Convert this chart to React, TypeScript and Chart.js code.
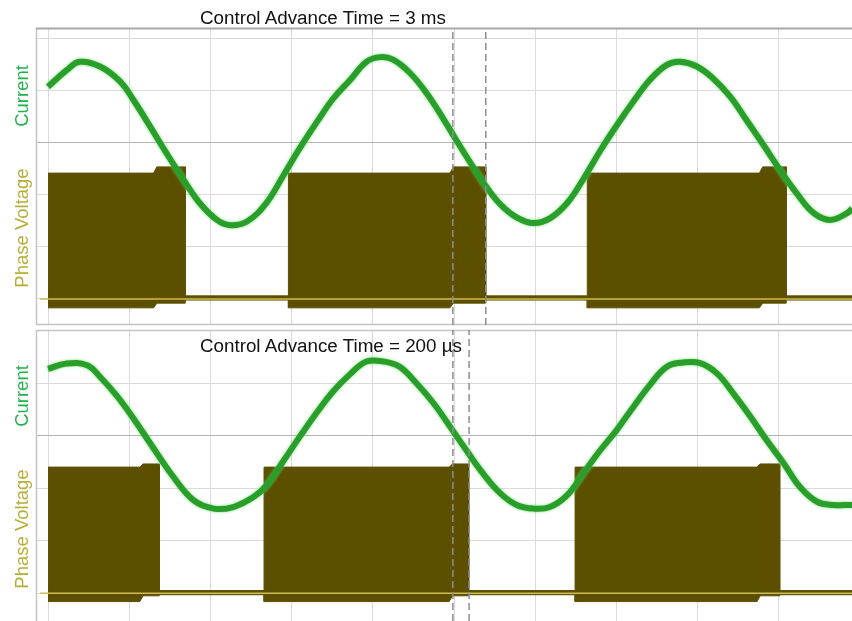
import React, { useEffect, useRef } from "react";
import { Chart, registerables } from "chart.js";

Chart.register(...registerables);

// Units: oscilloscope divisions (x: time divisions, y: vertical divisions)
const xRange = [-0.148, 9.9];
const topYRange = [-0.5, 5.21];
const botYRange = [-0.53, 5.01];

// ---- Top panel (Control Advance Time = 3 ms) ----
const topCurrentX = [0.0, 0.23, 0.39, 0.64, 0.89, 1.05, 1.26, 1.46, 1.67, 1.87, 2.08, 2.24, 2.45, 2.69, 2.9, 3.1, 3.31, 3.51, 3.72, 3.92, 4.09, 4.25, 4.46, 4.66, 4.87, 4.99, 5.16, 5.28, 5.4, 5.57, 5.77, 5.98, 6.18, 6.39, 6.59, 6.8, 7.0, 7.21, 7.41, 7.62, 7.78, 7.99, 8.19, 8.4, 8.6, 8.81, 9.01, 9.22, 9.43, 9.63, 9.84, 9.9];
const topCurrentY = [4.08, 4.4, 4.56, 4.47, 4.18, 3.83, 3.31, 2.8, 2.29, 1.84, 1.52, 1.42, 1.49, 1.85, 2.38, 2.9, 3.4, 3.85, 4.21, 4.56, 4.65, 4.6, 4.34, 3.96, 3.46, 3.15, 2.72, 2.43, 2.15, 1.82, 1.57, 1.46, 1.55, 1.84, 2.3, 2.85, 3.33, 3.8, 4.21, 4.5, 4.56, 4.47, 4.24, 3.89, 3.44, 2.96, 2.49, 2.03, 1.65, 1.52, 1.65, 1.74];
const topBlockStart = [0, 2.96, 6.64];
const topBlockEnd = [1.69, 5.39, 9.09];
const topBumpStart = [1.34, 4.99, 8.8];
const topBlockHigh = [2.42, 2.54]; // flat top, end bump
const topBlockLow = [-0.17, -0.08];
const topIdle = [0.06, -0.02];
const topCursors = [4.985, 5.39];

// ---- Bottom panel (Control Advance Time = 200 µs) ----
const botCurrentX = [0.0, 0.22, 0.48, 0.64, 0.85, 1.05, 1.26, 1.54, 1.79, 2.04, 2.28, 2.53, 2.69, 2.9, 3.1, 3.31, 3.51, 3.72, 3.92, 4.13, 4.33, 4.54, 4.75, 4.95, 5.16, 5.36, 5.57, 5.77, 5.98, 6.18, 6.39, 6.59, 6.8, 7.0, 7.21, 7.41, 7.62, 7.82, 8.03, 8.24, 8.44, 8.65, 8.85, 9.06, 9.26, 9.47, 9.67, 9.9];
const botCurrentY = [4.27, 4.37, 4.34, 4.12, 3.75, 3.33, 2.85, 2.22, 1.77, 1.61, 1.64, 1.83, 2.05, 2.52, 2.98, 3.44, 3.84, 4.17, 4.41, 4.41, 4.31, 3.99, 3.61, 3.17, 2.7, 2.27, 1.9, 1.68, 1.61, 1.64, 1.86, 2.28, 2.72, 3.1, 3.55, 3.96, 4.31, 4.39, 4.38, 4.18, 3.8, 3.36, 2.91, 2.47, 2.02, 1.74, 1.68, 1.68];
const botBlockStart = [0, 2.66, 6.49];
const botBlockEnd = [1.37, 5.18, 9.01];
const botBumpStart = [1.17, 4.98, 8.77];
const botBlockHigh = [2.4, 2.46];
const botBlockLow = [-0.16, -0.05];
const botIdle = [0.05, -0.03];
const botCursors = [4.985, 5.185];

const groundLevel = 0;

type Pt = { x: number; y: number | null };

function envelope(starts: number[], ends: number[], bumps: number[], levels: number[], idle: number, xMax: number): Pt[] {
  const pts: Pt[] = [];
  starts.forEach((s, i) => {
    if (s > 0) {
      pts.push({ x: s, y: idle });
    }
    pts.push({ x: s, y: levels[0] });
    pts.push({ x: bumps[i] - 0.04, y: levels[0] });
    pts.push({ x: bumps[i], y: levels[1] });
    pts.push({ x: ends[i], y: levels[1] });
    pts.push({ x: ends[i], y: idle });
  });
  pts.push({ x: xMax, y: idle });
  return pts;
}

function buildDatasets(p: {
  curX: number[]; curY: number[]; starts: number[]; ends: number[]; bumps: number[];
  high: number[]; low: number[]; idle: number[]; cursors: number[]; yRange: number[];
}) {
  const cursorPts: Pt[] = [];
  p.cursors.forEach((c) => {
    cursorPts.push({ x: c, y: p.yRange[0] });
    cursorPts.push({ x: c, y: p.yRange[1] });
    cursorPts.push({ x: c, y: null });
  });
  const olive = "#5c5000";
  return [
    {
      label: "Cursor",
      data: cursorPts,
      borderColor: "#8d8d8d",
      borderWidth: 1.5,
      borderDash: [7, 4],
      pointRadius: 0,
      spanGaps: false,
      tension: 0,
      fill: false,
    },
    {
      label: "Current",
      data: p.curX.map((x, i) => ({ x, y: p.curY[i] })),
      borderColor: "#2a9e2a",
      borderWidth: 6,
      pointRadius: 0,
      tension: 0.4,
      fill: false,
    },
    {
      label: "Ground",
      data: [
        { x: xRange[0] + 0.05, y: groundLevel },
        { x: xRange[1], y: groundLevel },
      ],
      borderColor: "#cdbd52",
      borderWidth: 1.5,
      pointRadius: 0,
      tension: 0,
      fill: false,
    },
    {
      label: "Phase Voltage",
      data: envelope(p.starts, p.ends, p.bumps, p.high, p.idle[0], xRange[1]),
      borderColor: olive,
      backgroundColor: olive,
      borderWidth: 1,
      pointRadius: 0,
      tension: 0,
      fill: "+1",
    },
    {
      label: "Phase Voltage low",
      data: envelope(p.starts, p.ends, p.bumps, p.low, p.idle[1], xRange[1]),
      borderColor: olive,
      borderWidth: 1,
      pointRadius: 0,
      tension: 0,
      fill: false,
    },
  ];
}

const glowPlugin = {
  id: "glow",
  beforeDatasetDraw(chart: any, args: any) {
    const ds = chart.data.datasets[args.index];
    if (ds.label === "Current") {
      chart.ctx.save();
      chart.ctx.shadowColor = "rgba(100,220,100,0.9)";
      chart.ctx.shadowBlur = 3;
    }
  },
  afterDatasetDraw(chart: any, args: any) {
    const ds = chart.data.datasets[args.index];
    if (ds.label === "Current") chart.ctx.restore();
  },
};

const framePlugin = {
  id: "frame",
  beforeDatasetsDraw(chart: any, _args: any, opts: any) {
    const { ctx, chartArea: a } = chart;
    ctx.save();
    ctx.lineWidth = 1.5;
    ctx.strokeStyle = "#c4c4c4";
    ctx.beginPath();
    ctx.moveTo(a.left + 0.5, a.top);
    ctx.lineTo(a.left + 0.5, a.bottom);
    ctx.stroke();
    if (opts.topColor) {
      ctx.strokeStyle = opts.topColor;
      ctx.lineWidth = opts.topWidth || 1.5;
      ctx.beginPath();
      ctx.moveTo(a.left, a.top + 0.5);
      ctx.lineTo(a.right, a.top + 0.5);
      ctx.stroke();
    }
    if (opts.bottomColor) {
      ctx.strokeStyle = opts.bottomColor;
      ctx.lineWidth = 1.5;
      ctx.beginPath();
      ctx.moveTo(a.left, a.bottom - 0.5);
      ctx.lineTo(a.right, a.bottom - 0.5);
      ctx.stroke();
    }
    ctx.restore();
  },
};

function makeOptions(yRange: number[], padding: any, frame: any) {
  return {
    responsive: false,
    animation: false as const,
    devicePixelRatio: 1,
    layout: { padding },
    plugins: {
      legend: { display: false },
      tooltip: { enabled: false },
      title: { display: false },
      frame,
    },
    elements: { point: { radius: 0 } },
    scales: {
      x: {
        type: "linear" as const,
        min: xRange[0],
        max: xRange[1],
        ticks: { display: false, stepSize: 1, includeBounds: false },
        grid: { color: "#dadada", lineWidth: 1, drawTicks: false },
        border: { display: false },
      },
      y: {
        type: "linear" as const,
        min: yRange[0],
        max: yRange[1],
        ticks: { display: false, stepSize: 1, includeBounds: false },
        grid: {
          color: (c: any) => (c.tick && c.tick.value === 3 ? "#b4b4b4" : "#dadada"),
          lineWidth: 1,
          drawTicks: false,
        },
        border: { display: false },
      },
    },
  };
}

const FONT = "'Liberation Sans', Arial, Helvetica, sans-serif";

function SideLabel(props: { text: string; cx: number; cy: number; color: string }) {
  return (
    <div
      style={{
        position: "absolute",
        left: props.cx,
        top: props.cy,
        transform: "translate(-50%, -50%) rotate(-90deg)",
        whiteSpace: "nowrap",
        lineHeight: 1,
        fontSize: 18.5,
        fontFamily: FONT,
        color: props.color,
      }}
    >
      {props.text}
    </div>
  );
}

export default function App() {
  const topRef = useRef<HTMLCanvasElement>(null);
  const botRef = useRef<HTMLCanvasElement>(null);

  useEffect(() => {
    const top = new Chart(topRef.current as HTMLCanvasElement, {
      type: "line",
      data: {
        datasets: buildDatasets({
          curX: topCurrentX, curY: topCurrentY, starts: topBlockStart, ends: topBlockEnd,
          bumps: topBumpStart, high: topBlockHigh, low: topBlockLow, idle: topIdle,
          cursors: topCursors, yRange: topYRange,
        }) as any,
      },
      options: makeOptions(topYRange, { left: 36, right: 0, top: 28, bottom: 1 }, {
        topColor: "#a8a8a8", topWidth: 2, bottomColor: "#c4c4c4",
      }) as any,
      plugins: [glowPlugin, framePlugin],
    });
    const bot = new Chart(botRef.current as HTMLCanvasElement, {
      type: "line",
      data: {
        datasets: buildDatasets({
          curX: botCurrentX, curY: botCurrentY, starts: botBlockStart, ends: botBlockEnd,
          bumps: botBumpStart, high: botBlockHigh, low: botBlockLow, idle: botIdle,
          cursors: botCursors, yRange: botYRange,
        }) as any,
      },
      options: makeOptions(botYRange, { left: 36, right: 0, top: 1, bottom: 0 }, {
        topColor: "#c4c4c4", topWidth: 1.5,
      }) as any,
      plugins: [glowPlugin, framePlugin],
    });
    return () => {
      top.destroy();
      bot.destroy();
    };
  }, []);

  return (
    <div
      style={{
        position: "absolute",
        left: 0,
        top: 0,
        width: 852,
        height: 621,
        background: "#ffffff",
        overflow: "hidden",
        fontFamily: FONT,
      }}
    >
      <canvas ref={topRef} width={852} height={326} style={{ position: "absolute", left: 0, top: 0, width: 852, height: 326 }} />
      <canvas ref={botRef} width={852} height={292} style={{ position: "absolute", left: 0, top: 329, width: 852, height: 292 }} />
      <div style={{ position: "absolute", left: 200, top: 9.2, fontSize: 18.8, lineHeight: 1, whiteSpace: "nowrap", color: "#111" }}>
        Control Advance Time = 3 ms
      </div>
      <div style={{ position: "absolute", left: 200, top: 337.3, fontSize: 18.8, lineHeight: 1, whiteSpace: "nowrap", color: "#111" }}>
        Control Advance Time = 200 µs
      </div>
      <SideLabel text="Current" cx={21.5} cy={96} color="#22b14c" />
      <SideLabel text="Phase Voltage" cx={21.5} cy={228} color="#b5ae36" />
      <SideLabel text="Current" cx={21.5} cy={396} color="#22b14c" />
      <SideLabel text="Phase Voltage" cx={21.5} cy={529} color="#b5ae36" />
    </div>
  );
}
